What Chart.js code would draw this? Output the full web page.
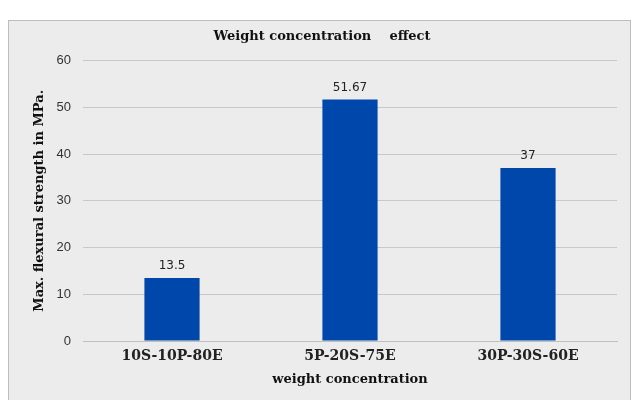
<!DOCTYPE html>
<html>
<head>
<meta charset="utf-8">
<script src="https://cdn.jsdelivr.net/npm/chart.js@4"></script>
<style>
  html, body { margin: 0; padding: 0; background: #ffffff; }
  #wrap { position: relative; width: 633px; height: 400px; }
</style>
</head>
<body>
<div id="wrap"><canvas id="myChart" width="633" height="400"></canvas></div>
<script>
const categories = ['10S-10P-80E', '5P-20S-75E', '30P-30S-60E'];
const strength = [13.5, 51.67, 37];
const valueLabels = ['13.5', '51.67', '37'];

// grey panel behind the plot, like the spreadsheet chart frame
const panelBg = {
    id: 'panelBg',
    beforeDraw(chart) {
        const ctx = chart.ctx;
        ctx.save();
        ctx.fillStyle = '#ececec';
        ctx.fillRect(8, 20, 623, 390);
        ctx.strokeStyle = '#bdbdbd';
        ctx.lineWidth = 1;
        ctx.strokeRect(8.5, 20.5, 622, 390);
        ctx.restore();
    }
};

// value above each bar
const barValues = {
    id: 'barValues',
    afterDatasetsDraw(chart) {
        const ctx = chart.ctx;
        const meta = chart.getDatasetMeta(0);
        ctx.save();
        ctx.font = '12px "DejaVu Sans", Verdana, sans-serif';
        ctx.fillStyle = '#222';
        ctx.textAlign = 'center';
        ctx.textBaseline = 'middle';
        meta.data.forEach((bar, i) => {
            ctx.fillText(valueLabels[i], bar.x, bar.y - 12);
        });
        ctx.restore();
    }
};

const serifBold = { family: '"DejaVu Serif", Georgia, serif', size: 13, weight: 'bold' };

new Chart(document.getElementById('myChart'), {
    type: 'bar',
    data: {
        labels: categories,
        datasets: [{
            data: strength,
            backgroundColor: '#0047ab',
            barPercentage: 0.31,
            categoryPercentage: 1
        }]
    },
    options: {
        responsive: false,
        animation: false,
        layout: { padding: { top: 20, left: 27, right: 16, bottom: 0 } },
        plugins: {
            legend: { display: false },
            tooltip: { enabled: false },
            title: {
                display: true,
                text: 'Weight concentration    effect',
                color: '#111',
                font: serifBold,
                padding: { top: 9, bottom: 16 }
            }
        },
        scales: {
            x: {
                grid: { display: false, drawTicks: false },
                border: { color: '#bfbfbf' },
                ticks: { color: '#222', font: { ...serifBold, size: 14 }, padding: 7 },
                title: {
                    display: true,
                    text: 'weight concentration',
                    color: '#111',
                    font: serifBold,
                    padding: { top: 0, bottom: 13 }
                },
                afterFit(scale) { scale.height = 59; }
            },
            y: {
                min: 0,
                max: 60,
                grid: { color: '#c8c8c8', drawTicks: false },
                border: { display: false },
                ticks: {
                    stepSize: 10,
                    color: '#333',
                    padding: 12,
                    font: { family: '"Liberation Sans", Arial, sans-serif', size: 13 }
                },
                title: {
                    display: true,
                    text: 'Max. flexural strength in MPa.',
                    color: '#111',
                    font: serifBold,
                    padding: { top: 5, bottom: 0 }
                },
                afterFit(scale) { scale.width = 56; }
            }
        }
    },
    plugins: [panelBg, barValues]
});
</script>
</body>
</html>
